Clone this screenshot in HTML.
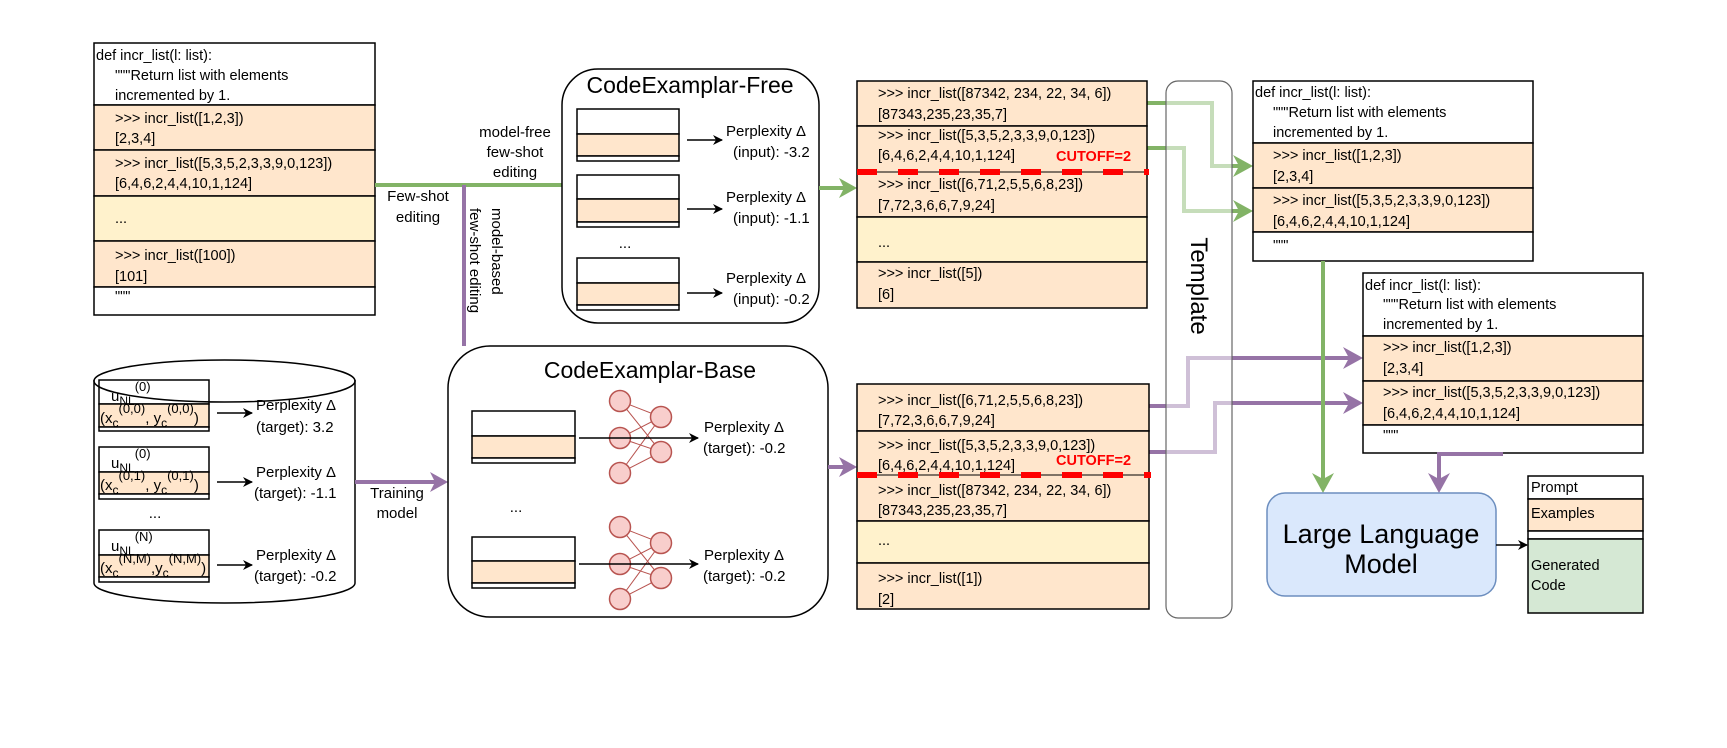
<!DOCTYPE html>
<html><head><meta charset="utf-8"><style>
html,body{margin:0;padding:0;background:#fff;}
svg{display:block;}
text{font-family:"Liberation Sans",sans-serif;fill:#000;}
.c{font-size:14.5px;}
.p{font-size:15px;}
</style></head><body>
<svg width="1727" height="748" viewBox="0 0 1727 748" xmlns="http://www.w3.org/2000/svg">
<defs>
<marker id="ab" markerWidth="10" markerHeight="10" refX="9" refY="5" orient="auto" markerUnits="userSpaceOnUse"><path d="M0,0 L10,5 L0,10 L3,5 Z" fill="#000"/></marker>
</defs>

<!-- Left code box -->
<g stroke="#000" stroke-width="1.5">
<rect x="94" y="43" width="281" height="62" fill="#fff"/>
<rect x="94" y="105" width="281" height="45" fill="#ffe6cc"/>
<rect x="94" y="150" width="281" height="46" fill="#ffe6cc"/>
<rect x="94" y="196" width="281" height="45" fill="#fff2cc"/>
<rect x="94" y="241" width="281" height="46" fill="#ffe6cc"/>
<rect x="94" y="287" width="281" height="28" fill="#fff"/>
</g>
<g class="c">
<text x="96" y="60">def incr_list(l: list):</text>
<text x="115" y="80">"""Return list with elements</text>
<text x="115" y="100">incremented by 1.</text>
<text x="115" y="123">&gt;&gt;&gt; incr_list([1,2,3])</text>
<text x="115" y="143">[2,3,4]</text>
<text x="115" y="168">&gt;&gt;&gt; incr_list([5,3,5,2,3,3,9,0,123])</text>
<text x="115" y="188">[6,4,6,2,4,4,10,1,124]</text>
<text x="115" y="223">...</text>
<text x="115" y="260">&gt;&gt;&gt; incr_list([100])</text>
<text x="115" y="281">[101]</text>
<text x="115" y="301">"""</text>
</g>

<!-- few-shot connectors -->
<line x1="375" y1="185" x2="562" y2="185" stroke="#82b366" stroke-width="4"/>
<line x1="464" y1="185" x2="464" y2="346" stroke="#9673a6" stroke-width="4"/>
<g class="p" text-anchor="middle">
<text x="418" y="201">Few-shot</text>
<text x="418" y="222">editing</text>
<text x="515" y="137">model-free</text>
<text x="515" y="157">few-shot</text>
<text x="515" y="177">editing</text>
</g>
<text class="p" transform="translate(492,208) rotate(90)">model-based</text>
<text class="p" transform="translate(470,208) rotate(90)">few-shot editing</text>

<!-- CodeExamplar-Free -->
<rect x="562" y="69" width="257" height="254" rx="36" fill="#fff" stroke="#000" stroke-width="1.5"/>
<text x="690" y="93" font-size="23" text-anchor="middle">CodeExamplar-Free</text>
<g stroke="#000" stroke-width="1.5">
<rect x="577" y="109" width="102" height="25" fill="#fff"/><rect x="577" y="134" width="102" height="22" fill="#ffe6cc"/><rect x="577" y="156" width="102" height="5" fill="#fff"/>
<rect x="577" y="175" width="102" height="24" fill="#fff"/><rect x="577" y="199" width="102" height="23" fill="#ffe6cc"/><rect x="577" y="222" width="102" height="5" fill="#fff"/>
<rect x="577" y="258" width="102" height="25" fill="#fff"/><rect x="577" y="283" width="102" height="22" fill="#ffe6cc"/><rect x="577" y="305" width="102" height="5" fill="#fff"/>
<line x1="687" y1="140" x2="722" y2="140" marker-end="url(#ab)"/>
<line x1="687" y1="209" x2="722" y2="209" marker-end="url(#ab)"/>
<line x1="687" y1="293" x2="722" y2="293" marker-end="url(#ab)"/>
</g>
<text x="625" y="248" class="p" text-anchor="middle">...</text>
<g class="p">
<text x="726" y="136">Perplexity Δ</text><text x="733" y="157">(input): -3.2</text>
<text x="726" y="202">Perplexity Δ</text><text x="733" y="223">(input): -1.1</text>
<text x="726" y="283">Perplexity Δ</text><text x="733" y="304">(input): -0.2</text>
</g>

<!-- cylinder -->
<path d="M94,380 L94,583 A130.5,20 0 0 0 355,583 L355,380" fill="#fff" stroke="#000" stroke-width="1.5"/>
<g stroke="#000" stroke-width="1.5">
<rect x="99" y="380" width="110" height="24" fill="#fff"/><rect x="99" y="404" width="110" height="23" fill="#ffe6cc"/><rect x="99" y="427" width="110" height="4" fill="#fff"/>
<rect x="99" y="447" width="110" height="25" fill="#fff"/><rect x="99" y="472" width="110" height="22" fill="#ffe6cc"/><rect x="99" y="494" width="110" height="5" fill="#fff"/>
<rect x="99" y="530" width="110" height="25" fill="#fff"/><rect x="99" y="555" width="110" height="22" fill="#ffe6cc"/><rect x="99" y="577" width="110" height="5" fill="#fff"/>
</g>
<ellipse cx="224.5" cy="381" rx="130.5" ry="21" fill="none" stroke="#000" stroke-width="1.5"/>
<g font-size="15">
<text x="111" y="401">u<tspan font-size="12" dy="4">NL</tspan><tspan font-size="13" dy="-14">(0)</tspan></text>
<text x="100" y="423">(x<tspan font-size="12" dy="4">c</tspan><tspan font-size="13" dy="-14">(0,0)</tspan><tspan dy="10">, y</tspan><tspan font-size="12" dy="4">c</tspan><tspan font-size="13" dy="-14">(0,0)</tspan><tspan dy="10">)</tspan></text>
<text x="111" y="468">u<tspan font-size="12" dy="4">NL</tspan><tspan font-size="13" dy="-14">(0)</tspan></text>
<text x="100" y="490">(x<tspan font-size="12" dy="4">c</tspan><tspan font-size="13" dy="-14">(0,1)</tspan><tspan dy="10">, y</tspan><tspan font-size="12" dy="4">c</tspan><tspan font-size="13" dy="-14">(0,1)</tspan><tspan dy="10">)</tspan></text>
<text x="111" y="551">u<tspan font-size="12" dy="4">NL</tspan><tspan font-size="13" dy="-14">(N)</tspan></text>
<text x="100" y="573">(x<tspan font-size="12" dy="4">c</tspan><tspan font-size="13" dy="-14">(N,M)</tspan><tspan dy="10">,y</tspan><tspan font-size="12" dy="4">c</tspan><tspan font-size="13" dy="-14">(N,M)</tspan><tspan dy="10">)</tspan></text>
</g>
<text x="155" y="518" class="p" text-anchor="middle">...</text>
<g stroke="#000" stroke-width="1.5">
<line x1="217" y1="413" x2="252" y2="413" marker-end="url(#ab)"/>
<line x1="217" y1="482" x2="252" y2="482" marker-end="url(#ab)"/>
<line x1="217" y1="565" x2="252" y2="565" marker-end="url(#ab)"/>
</g>
<g class="p">
<text x="256" y="410">Perplexity Δ</text><text x="256" y="432">(target): 3.2</text>
<text x="256" y="477">Perplexity Δ</text><text x="254" y="498">(target): -1.1</text>
<text x="256" y="560">Perplexity Δ</text><text x="254" y="581">(target): -0.2</text>
</g>

<!-- training arrow -->
<line x1="355" y1="482" x2="436" y2="482" stroke="#9673a6" stroke-width="4"/>
<path d="M448,482 L430,472 L435,482 L430,492 Z" fill="#9673a6"/>
<g class="p" text-anchor="middle"><text x="397" y="498">Training</text><text x="397" y="518">model</text></g>

<!-- CodeExamplar-Base -->
<rect x="448" y="346" width="380" height="271" rx="42" fill="#fff" stroke="#000" stroke-width="1.5"/>
<text x="650" y="378" font-size="23" text-anchor="middle">CodeExamplar-Base</text>
<g stroke="#000" stroke-width="1.5">
<rect x="472" y="411" width="103" height="25" fill="#fff"/><rect x="472" y="436" width="103" height="22" fill="#ffe6cc"/><rect x="472" y="458" width="103" height="5" fill="#fff"/>
<rect x="472" y="537" width="103" height="24" fill="#fff"/><rect x="472" y="561" width="103" height="22" fill="#ffe6cc"/><rect x="472" y="583" width="103" height="5" fill="#fff"/>
</g>
<text x="516" y="512" class="p" text-anchor="middle">...</text>
<g stroke="#b85450" stroke-width="1">
<g id="nn">
<line x1="620" y1="401" x2="661" y2="417"/><line x1="620" y1="401" x2="661" y2="452"/>
<line x1="620" y1="438" x2="661" y2="417"/><line x1="620" y1="438" x2="661" y2="452"/>
<line x1="620" y1="473" x2="661" y2="417"/><line x1="620" y1="473" x2="661" y2="452"/>
<g fill="#f8cecc" stroke-width="1.5">
<circle cx="620" cy="401" r="10.5"/><circle cx="620" cy="438" r="10.5"/><circle cx="620" cy="473" r="10.5"/>
<circle cx="661" cy="417" r="10.5"/><circle cx="661" cy="452" r="10.5"/>
</g></g>
<use href="#nn" transform="translate(0,126)"/>
</g>
<g stroke="#000" stroke-width="1.5">
<line x1="579" y1="438" x2="698" y2="438" marker-end="url(#ab)"/>
<line x1="579" y1="564" x2="698" y2="564" marker-end="url(#ab)"/>
</g>
<g class="p">
<text x="704" y="432">Perplexity Δ</text><text x="703" y="453">(target): -0.2</text>
<text x="704" y="560">Perplexity Δ</text><text x="703" y="581">(target): -0.2</text>
</g>

<!-- arrows into middle boxes -->
<line x1="819" y1="188" x2="845" y2="188" stroke="#82b366" stroke-width="4"/>
<path d="M857,188 L839,178 L844,188 L839,198 Z" fill="#82b366"/>
<line x1="828" y1="467" x2="845" y2="467" stroke="#9673a6" stroke-width="4"/>
<path d="M857,467 L839,457 L844,467 L839,477 Z" fill="#9673a6"/>

<!-- connectors to right (behind template) -->
<g fill="none" stroke-width="4">
<polyline points="1147,103 1212,103 1212,166 1240,166" stroke="#82b366"/>
<polyline points="1147,148 1184,148 1184,211 1240,211" stroke="#82b366"/>
<polyline points="1149,406 1188,406 1188,358 1350,358" stroke="#9673a6"/>
<polyline points="1149,452 1215,452 1215,403 1350,403" stroke="#9673a6"/>
</g>
<path d="M1253,166 L1233,155 L1239,166 L1233,177 Z" fill="#82b366"/>
<path d="M1253,211 L1233,200 L1239,211 L1233,222 Z" fill="#82b366"/>
<path d="M1363,358 L1343,347 L1349,358 L1343,369 Z" fill="#9673a6"/>
<path d="M1363,403 L1343,392 L1349,403 L1343,414 Z" fill="#9673a6"/>

<!-- Template -->
<rect x="1166" y="81" width="66" height="537" rx="12" fill="#fff" fill-opacity="0.55" stroke="#666" stroke-width="1.2"/>
<text font-size="24" text-anchor="middle" transform="translate(1191,286) rotate(90)">Template</text>

<!-- Middle top box -->
<g stroke="#000" stroke-width="1.5">
<rect x="857" y="81" width="290" height="45" fill="#ffe6cc"/>
<rect x="857" y="126" width="290" height="91" fill="#ffe6cc"/>
<rect x="857" y="217" width="290" height="45" fill="#fff2cc"/>
<rect x="857" y="262" width="290" height="46" fill="#ffe6cc"/>
<line x1="857" y1="172" x2="1147" y2="172" stroke-width="1"/>
</g>
<line x1="857" y1="172" x2="1149" y2="172" stroke="#f00" stroke-width="6" stroke-dasharray="20 21"/>
<g class="c">
<text x="878" y="98">&gt;&gt;&gt; incr_list([87342, 234, 22, 34, 6])</text>
<text x="878" y="119">[87343,235,23,35,7]</text>
<text x="878" y="140">&gt;&gt;&gt; incr_list([5,3,5,2,3,3,9,0,123])</text>
<text x="878" y="160">[6,4,6,2,4,4,10,1,124]</text>
<text x="878" y="189">&gt;&gt;&gt; incr_list([6,71,2,5,5,6,8,23])</text>
<text x="878" y="210">[7,72,3,6,6,7,9,24]</text>
<text x="878" y="247">...</text>
<text x="878" y="278">&gt;&gt;&gt; incr_list([5])</text>
<text x="878" y="299">[6]</text>
</g>
<text x="1056" y="161" font-size="14.5" font-weight="bold" style="fill:#f00">CUTOFF=2</text>

<!-- Middle bottom box -->
<g stroke="#000" stroke-width="1.5">
<rect x="857" y="384" width="292" height="47" fill="#ffe6cc"/>
<rect x="857" y="431" width="292" height="90" fill="#ffe6cc"/>
<rect x="857" y="521" width="292" height="42" fill="#fff2cc"/>
<rect x="857" y="563" width="292" height="46" fill="#ffe6cc"/>
<line x1="857" y1="475" x2="1149" y2="475" stroke-width="1"/>
</g>
<line x1="857" y1="475" x2="1151" y2="475" stroke="#f00" stroke-width="6" stroke-dasharray="20 21"/>
<g class="c">
<text x="878" y="405">&gt;&gt;&gt; incr_list([6,71,2,5,5,6,8,23])</text>
<text x="878" y="425">[7,72,3,6,6,7,9,24]</text>
<text x="878" y="450">&gt;&gt;&gt; incr_list([5,3,5,2,3,3,9,0,123])</text>
<text x="878" y="470">[6,4,6,2,4,4,10,1,124]</text>
<text x="878" y="495">&gt;&gt;&gt; incr_list([87342, 234, 22, 34, 6])</text>
<text x="878" y="515">[87343,235,23,35,7]</text>
<text x="878" y="545">...</text>
<text x="878" y="583">&gt;&gt;&gt; incr_list([1])</text>
<text x="878" y="604">[2]</text>
</g>
<text x="1056" y="465" font-size="14.5" font-weight="bold" style="fill:#f00">CUTOFF=2</text>

<!-- Right top box -->
<g stroke="#000" stroke-width="1.5">
<rect x="1253" y="81" width="280" height="62" fill="#fff"/>
<rect x="1253" y="143" width="280" height="45" fill="#ffe6cc"/>
<rect x="1253" y="188" width="280" height="44" fill="#ffe6cc"/>
<rect x="1253" y="232" width="280" height="29" fill="#fff"/>
</g>
<g class="c">
<text x="1255" y="97">def incr_list(l: list):</text>
<text x="1273" y="117">"""Return list with elements</text>
<text x="1273" y="137">incremented by 1.</text>
<text x="1273" y="160">&gt;&gt;&gt; incr_list([1,2,3])</text>
<text x="1273" y="181">[2,3,4]</text>
<text x="1273" y="205">&gt;&gt;&gt; incr_list([5,3,5,2,3,3,9,0,123])</text>
<text x="1273" y="226">[6,4,6,2,4,4,10,1,124]</text>
<text x="1273" y="250">"""</text>
</g>

<!-- Right bottom box -->
<g stroke="#000" stroke-width="1.5">
<rect x="1363" y="273" width="280" height="63" fill="#fff"/>
<rect x="1363" y="336" width="280" height="45" fill="#ffe6cc"/>
<rect x="1363" y="381" width="280" height="44" fill="#ffe6cc"/>
<rect x="1363" y="425" width="280" height="28" fill="#fff"/>
</g>
<g class="c">
<text x="1365" y="290">def incr_list(l: list):</text>
<text x="1383" y="309">"""Return list with elements</text>
<text x="1383" y="329">incremented by 1.</text>
<text x="1383" y="352">&gt;&gt;&gt; incr_list([1,2,3])</text>
<text x="1383" y="373">[2,3,4]</text>
<text x="1383" y="397">&gt;&gt;&gt; incr_list([5,3,5,2,3,3,9,0,123])</text>
<text x="1383" y="418">[6,4,6,2,4,4,10,1,124]</text>
<text x="1383" y="440">"""</text>
</g>

<!-- to LLM -->
<line x1="1323" y1="261" x2="1323" y2="480" stroke="#82b366" stroke-width="4"/>
<path d="M1323,493 L1312,473 L1323,479 L1334,473 Z" fill="#82b366"/>
<polyline points="1503,454 1439,454 1439,480" fill="none" stroke="#9673a6" stroke-width="4"/>
<path d="M1439,493 L1428,473 L1439,479 L1450,473 Z" fill="#9673a6"/>

<!-- LLM -->
<rect x="1267" y="493" width="229" height="103" rx="18" fill="#dae8fc" stroke="#6c8ebf" stroke-width="1.5"/>
<text x="1381" y="543" font-size="27" text-anchor="middle">Large Language</text>
<text x="1381" y="573" font-size="27" text-anchor="middle">Model</text>
<line x1="1496" y1="545" x2="1527" y2="545" stroke="#000" stroke-width="1.5" marker-end="url(#ab)"/>

<!-- Prompt -->
<g stroke="#000" stroke-width="1.5">
<rect x="1528" y="476" width="115" height="23" fill="#fff"/>
<rect x="1528" y="499" width="115" height="32" fill="#ffe6cc"/>
<rect x="1528" y="531" width="115" height="8" fill="#fff"/>
<rect x="1528" y="539" width="115" height="74" fill="#d5e8d4"/>
</g>
<g class="c">
<text x="1531" y="492">Prompt</text>
<text x="1531" y="518">Examples</text>
<text x="1531" y="570">Generated</text>
<text x="1531" y="590">Code</text>
</g>
</svg>
</body></html>
